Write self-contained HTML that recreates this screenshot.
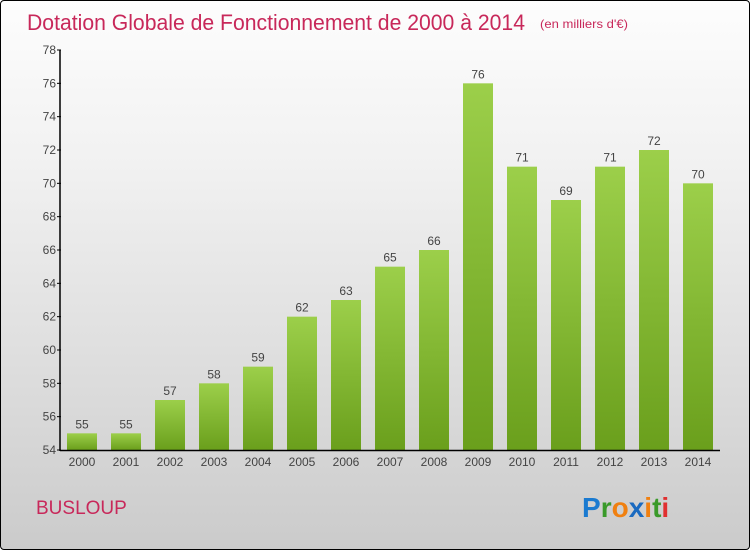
<!DOCTYPE html>
<html><head><meta charset="utf-8"><style>
body{margin:0;width:750px;height:550px;overflow:hidden;font-family:"Liberation Sans",sans-serif}
#wrap{position:absolute;left:0;top:0;width:748px;height:548px;border:1px solid #000;border-radius:4px;background:linear-gradient(#fdfdfd,#f1f1f1 30%,#d9d9d9 75%,#cbcbcb)}
</style></head><body>
<div id="wrap">
<svg width="750" height="550" style="position:absolute;left:-1px;top:-1px" id="svg">
<defs><linearGradient id="g" x1="0" y1="0" x2="0" y2="1"><stop offset="0" stop-color="#9ccf4a"/><stop offset="1" stop-color="#6a9f1c"/></linearGradient></defs>
<text x="27" y="30" font-size="22" fill="#c8285a" textLength="498" lengthAdjust="spacingAndGlyphs">Dotation Globale de Fonctionnement de 2000 à 2014</text>
<text x="540" y="28" font-size="12" fill="#c8285a" textLength="88" lengthAdjust="spacingAndGlyphs">(en milliers d'€)</text>
<text x="36" y="514" font-size="19" fill="#c8285a">BUSLOUP</text>
<text x="582" y="517" font-size="28" font-weight="bold"><tspan fill="#1a7ad0">P</tspan><tspan fill="#3a9a2a">r</tspan><tspan fill="#f08010">o</tspan><tspan fill="#1a6ac0">x</tspan><tspan fill="#f08010">i</tspan><tspan fill="#3a9a2a">t</tspan><tspan fill="#e03030">i</tspan></text>
<g id="plot"></g>
</svg></div>
<script>
const years=["2000","2001","2002","2003","2004","2005","2006","2007","2008","2009","2010","2011","2012","2013","2014"];
const values=[55,55,57,58,59,62,63,65,66,76,71,69,71,72,70];
const yTicks=[54,56,58,60,62,64,66,68,70,72,74,76,78];
const NS="http://www.w3.org/2000/svg",g=document.getElementById('plot');
const y=v=>450-(v-54)*400/24, x=i=>82+i*44;
function mk(t,a,txt){const e=document.createElementNS(NS,t);for(const k in a)e.setAttribute(k,a[k]);if(txt!=null)e.textContent=txt;g.appendChild(e);return e;}
values.forEach((v,i)=>{
 const r=mk('rect',{x:x(i)-15,y:y(v),width:30,height:450-y(v),fill:'url(#g)'});
 
 
 const t=mk('text',{x:x(i),y:y(v)-5,'font-size':12,fill:'#444','text-anchor':'middle'},String(v));
 
 
 const l=mk('text',{x:x(i),y:466,'font-size':12,fill:'#444','text-anchor':'middle'},years[i]);
 
 
});
yTicks.forEach(v=>{
 const tk=mk('line',{x1:57,x2:61,y1:y(v),y2:y(v),stroke:'#000'});
 
 
 const t=mk('text',{x:56,y:y(v)+4,'font-size':12,fill:'#444','text-anchor':'end'},String(v));
 
 
});
const ya=mk('line',{x1:60,x2:60,y1:50,y2:451,stroke:'#000','stroke-width':1.5});


const xa=mk('line',{x1:60,x2:720,y1:450.5,y2:450.5,stroke:'#000','stroke-width':1.5});


</script>
</body></html>
